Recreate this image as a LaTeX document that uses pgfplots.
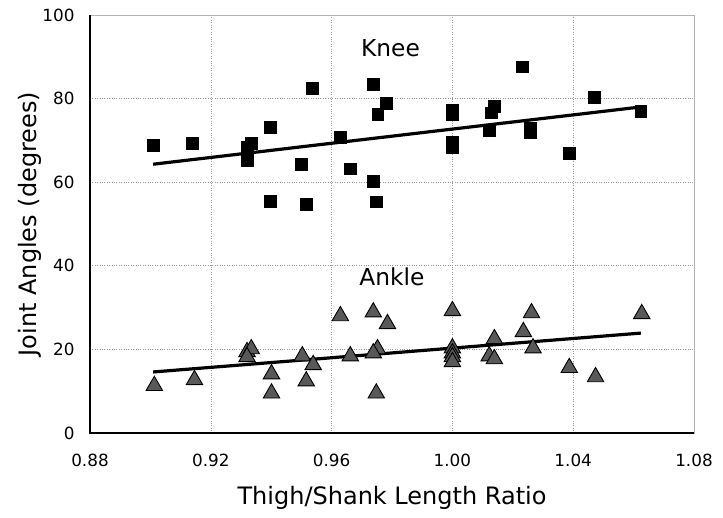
\documentclass[border=0pt]{standalone}
\usepackage{pgfplots}
\pgfplotsset{compat=1.18}
\usepackage{fontspec}
\setmainfont{DejaVu Sans}
\begin{document}
\begin{tikzpicture}
\begin{axis}[
  name=ax,
  scale only axis,
  width=604pt, height=418pt,
  xmin=0.88, xmax=1.08, ymin=0, ymax=100,
  xtick={0.88,0.92,0.96,1.00,1.04,1.08},
  ytick={0,20,40,60,80,100},
  /pgf/number format/assume math mode=true,
  tick label style={font=\fontsize{16.8}{18}\selectfont},
  xticklabel style={anchor=center, yshift=-27pt, /pgf/number format/fixed, /pgf/number format/fixed zerofill, /pgf/number format/precision=2},
  yticklabel style={anchor=east, xshift=-12pt},
  label style={font=\fontsize{24}{27}\selectfont},
  xlabel={Thigh/Shank Length Ratio},
  ylabel={Joint Angles (degrees)},
  xlabel style={at={(axis description cs:0.5,-0.156)}, anchor=center},
  ylabel style={at={(axis description cs:-0.099,0.5)}, anchor=center},
  major tick length=0pt,
  grid=major,
  grid style={dotted, gray!80, line width=0.6pt},
  axis line style={gray!60, line width=0.8pt},
  clip=false,
]
% Knee
\addplot[only marks, mark=square*, mark size=5.8pt, mark options={fill=black, draw=black}] coordinates {
(0.9009,68.9) (0.9139,69.4) (0.9320,68.4) (0.9320,65.3) (0.9334,69.4)
(0.9397,73.2) (0.9397,55.5) (0.9536,82.5) (0.9500,64.3) (0.9516,54.8)
(0.9629,70.8) (0.9662,63.2) (0.9738,83.5) (0.9781,78.9) (0.9752,76.3)
(0.9738,60.3) (0.9748,55.3)
(1.0000,77.3) (1.0000,76.1) (1.0000,69.6) (1.0000,68.4)
(1.0139,78.2) (1.0129,76.6) (1.0122,72.5) (1.0232,87.6)
(1.0258,73.0) (1.0258,71.8) (1.0470,80.4) (1.0387,67.0) (1.0624,77.0)
};
% Ankle
\addplot[only marks, mark=triangle*, mark size=9.5pt, mark options={fill=black!65, draw=black, line width=0.9pt}] coordinates {
(0.9013,11.3) (0.9146,12.7) (0.9320,19.4) (0.9334,20.1) (0.9320,18.2)
(0.9401,14.1) (0.9401,9.5) (0.9503,18.4) (0.9516,12.4) (0.9539,16.3)
(0.9629,28.0) (0.9662,18.4) (0.9738,28.9) (0.9785,26.1) (0.9752,20.1)
(0.9738,19.1) (0.9748,9.5)
(1.0000,29.2) (1.0000,20.3) (1.0000,19.1) (1.0000,18.2) (1.0000,17.0)
(1.0139,22.5) (1.0122,18.4) (1.0139,17.7) (1.0235,24.2) (1.0262,28.7)
(1.0267,20.3) (1.0387,15.6) (1.0474,13.4) (1.0627,28.5)
};
% trend lines
\addplot[black, line width=3.2pt] coordinates {(0.9009,64.3) (1.0624,78.0)};
\addplot[black, line width=3.2pt] coordinates {(0.9009,14.6) (1.0624,23.9)};
\node[font=\fontsize{23.3}{26}\selectfont] at (axis cs:0.9795,92.1) {Knee};
\node[font=\fontsize{23.3}{26}\selectfont] at (axis cs:0.9800,37.3) {Ankle};
\draw[black, line width=2pt] (rel axis cs:0,1) -- (rel axis cs:0,0) -- (rel axis cs:1,0);
\end{axis}
\pgfresetboundingbox
\path ([xshift=-90pt,yshift=-85pt]ax.south west) rectangle ([xshift=29pt,yshift=15pt]ax.north east);
\end{tikzpicture}
\end{document}
